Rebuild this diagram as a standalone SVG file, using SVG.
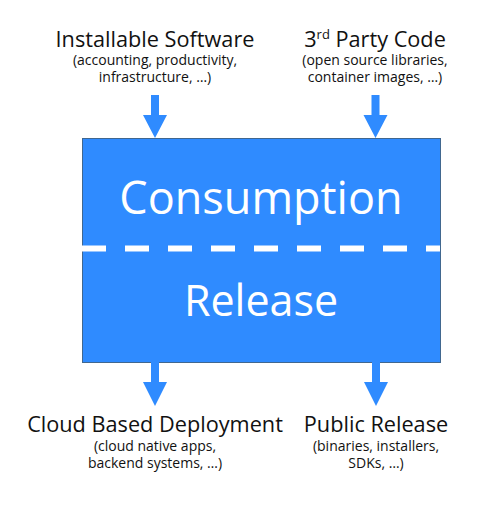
<svg xmlns="http://www.w3.org/2000/svg" width="479" height="506" viewBox="0 0 479 506">
<style>
.t{font-family:"Open Sans","Noto Sans",sans-serif;fill:#111;text-anchor:middle}
.h{font-size:21.7px}
.s{font-size:14px}
.big{font-family:"Open Sans","Noto Sans",sans-serif;fill:#fff;text-anchor:middle}
.arr{fill:#2f8bff}
</style>
<rect width="479" height="506" fill="#fff"/>
<g id="box">
<rect x="82.5" y="138.5" width="358" height="224" fill="#2f8bff" stroke="#41678f" stroke-width="1"/>
<line x1="82" y1="248.5" x2="440" y2="248.5" stroke="#fff" stroke-width="6" stroke-dasharray="24 19"/>
<text class="big" x="261" y="214" font-size="45">Consumption</text>
<text class="big" x="261" y="316" font-size="43">Release</text>
</g>
<g id="installable">
<text class="t h" x="155" y="47">Installable Software</text>
<text class="t s" x="155" y="65">(accounting, productivity,</text>
<text class="t s" x="155" y="82">infrastructure, …)</text>
</g>
<g id="thirdparty">
<text class="t h" x="375" y="47">3<tspan font-size="13" dy="-8">rd</tspan><tspan dy="8"> Party Code</tspan></text>
<text class="t s" x="375" y="65">(open source libraries,</text>
<text class="t s" x="375" y="82">container images, …)</text>
</g>
<g id="cloud">
<text class="t h" x="155" y="432">Cloud Based Deployment</text>
<text class="t s" x="155" y="451">(cloud native apps,</text>
<text class="t s" x="155" y="468">backend systems, …)</text>
</g>
<g id="public">
<text class="t h" x="376" y="432">Public Release</text>
<text class="t s" x="376" y="451">(binaries, installers,</text>
<text class="t s" x="376" y="468">SDKs, …)</text>
</g>
<g id="connectors">
<path class="arr" d="M151,95 H159 V115 H167 L155,138 L143,115 H151 Z"/>
<path class="arr" d="M371.5,95 H379.5 V115 H387.5 L375.5,138 L363.5,115 H371.5 Z"/>
<path class="arr" d="M151,362 H159 V382 H167 L155,406 L143,382 H151 Z"/>
<path class="arr" d="M372,362 H380 V382 H388 L376,406 L364,382 H372 Z"/>
</g>
</svg>
